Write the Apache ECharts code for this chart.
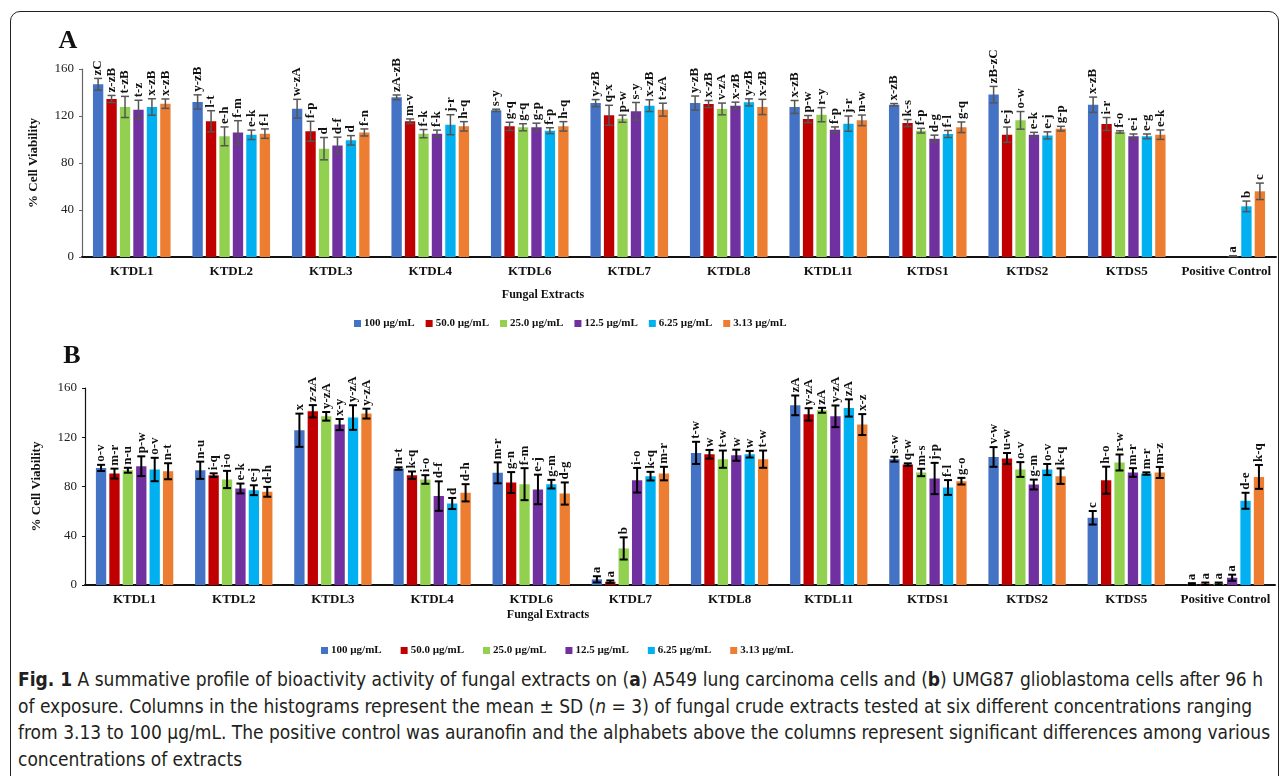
<!DOCTYPE html>
<html>
<head>
<meta charset="utf-8">
<script src="https://cdn.jsdelivr.net/npm/echarts@6/dist/echarts.min.js"></script>
<style>
  body { margin: 0; background: #fff; }
  #frame { position: absolute; left: 10px; top: 11px; width: 1267px; height: 900px; border: 1.6px solid #222; border-radius: 10px; }
  #chart { position: absolute; left: 0; top: 0; width: 1282px; height: 662px; }
  #caption {
    position: absolute; left: 18px; top: 666px; white-space: nowrap;
    font-family: 'DejaVu Sans Condensed', 'Liberation Sans Narrow', sans-serif;
    font-size: 19px; line-height: 26.5px; color: #231f20;
  }
</style>
</head>
<body>
<div id="frame"></div>
<div id="chart"></div>
<div id="caption">
  <b>Fig. 1</b> A summative profile of bioactivity activity of fungal extracts on (<b>a</b>) A549 lung carcinoma cells and (<b>b</b>) UMG87 glioblastoma cells after 96 h<br>
  of exposure. Columns in the histograms represent the mean ± SD (<i>n</i> = 3) of fungal crude extracts tested at six different concentrations ranging<br>
  from 3.13 to 100 µg/mL. The positive control was auranofin and the alphabets above the columns represent significant differences among various<br>
  concentrations of extracts
</div>
<script>
const categories = ['KTDL1', 'KTDL2', 'KTDL3', 'KTDL4', 'KTDL6', 'KTDL7', 'KTDL8', 'KTDL11', 'KTDS1', 'KTDS2', 'KTDS5', 'Positive Control']
const concentrations = ['100 µg/mL', '50.0 µg/mL', '25.0 µg/mL', '12.5 µg/mL', '6.25 µg/mL', '3.13 µg/mL']
const colors = ['#4472C4', '#C00000', '#92D050', '#7030A0', '#00B0F0', '#ED7D31']
const yTicks = [0, 40, 80, 120, 160]

// panel A - A549, one row per extract, columns follow concentrations
const meanA = [
  [147, 134.5, 127.7, 125.4, 127.7, 130.5],
  [132, 115.5, 102.7, 106, 104, 105],
  [126.2, 107, 92.2, 95, 99.3, 106],
  [135.9, 115.5, 105, 105, 112.6, 111.2],
  [124.8, 111.2, 110.4, 110.4, 107.5, 111.2],
  [131, 120.6, 117.7, 124, 128.8, 125.4],
  [131, 130.2, 126, 128.8, 131.6, 127.7],
  [127.7, 117.4, 121.1, 108.4, 113.5, 116.3],
  [129.6, 114, 107.5, 100.7, 104.7, 110.4],
  [138.2, 104.1, 116.3, 104.1, 103.5, 109.2],
  [129.6, 113.2, 106.4, 102.7, 102.7, 104.1],
  [null, null, null, 0.8, 43.1, 55.9]
]
const sdA = [
  [5, 3, 9, 8, 7, 4],
  [6, 9, 8, 10, 4, 4],
  [8, 8.5, 9.5, 7, 4, 3],
  [2, 2, 3.5, 3, 8.5, 4],
  [1, 3.5, 3, 3.5, 2.5, 4],
  [3, 8.5, 3, 7.5, 5, 5.5],
  [6, 3, 5, 3, 3, 6.5],
  [5.5, 3, 6, 2.3, 6.5, 4.5],
  [1, 3, 2, 3, 3, 4.5],
  [7, 6.5, 7.5, 2, 3, 2],
  [6.5, 5.5, 1, 2, 2, 4],
  [null, null, null, 0.3, 4.5, 7]
]
const letterA = [
  ['zC', 'z-zB', 't-zB', 't-z', 'x-zB', 'x-zB'],
  ['y-zB', 'l-t', 'e-h', 'f-m', 'e-k', 'f-l'],
  ['w-zA', 'f-p', 'd', 'd-f', 'd', 'f-n'],
  ['zA-zB', 'm-v', 'f-k', 'f-k', 'j-r', 'h-q'],
  ['s-y', 'g-q', 'g-q', 'g-p', 'f-p', 'h-q'],
  ['y-zB', 'q-x', 'p-w', 's-y', 'x-zB', 't-zA'],
  ['y-zB', 'x-zB', 'v-zA', 'x-zB', 'y-zB', 'x-zB'],
  ['x-zB', 'p-w', 'r-y', 'f-p', 'j-r', 'n-w'],
  ['x-zB', 'k-s', 'f-p', 'd-g', 'f-l', 'g-q'],
  ['zB-zC', 'e-j', 'o-w', 'e-k', 'e-j', 'g-p'],
  ['x-zB', 'i-r', 'f-o', 'e-i', 'e-g', 'e-k'],
  ['', '', '', 'a', 'b', 'c']
]

// panel B - UMG87
const meanB = [
  [95.1, 90.5, 93.2, 96.5, 93.8, 92.4],
  [93.2, 89.2, 85.7, 78.4, 77, 75.7],
  [125.7, 141.1, 137, 130.3, 136, 139.2],
  [94.6, 89.2, 85.7, 72.2, 66.2, 74.9],
  [91.1, 83.2, 81.9, 77.6, 81.9, 74.3],
  [4.6, 2.7, 29.7, 85.1, 88.4, 90.5],
  [107.3, 106.2, 102.2, 105.4, 106.2, 102.2],
  [145.9, 138.6, 141.9, 137, 143.8, 130.3],
  [102.2, 97.8, 91.4, 86.5, 79.2, 84.3],
  [104, 102.7, 93.8, 81.6, 93.8, 88.4],
  [54.6, 85.1, 99.5, 91.4, 90.5, 91.4],
  [0.5, 1, 1.2, 5.9, 68.4, 87.8]
]
const sdB = [
  [2.5, 4, 2, 8, 9.5, 6.5],
  [7, 1.5, 7, 4, 4, 4],
  [13.5, 5, 3.5, 4.5, 10, 4],
  [1, 3, 3.5, 12, 4.5, 7],
  [8.5, 8.5, 13, 12, 3.5, 9],
  [2.5, 1, 9, 10, 3.5, 5.5],
  [9, 3.5, 7, 4.5, 2.7, 7],
  [8, 5, 2, 8.8, 7, 8.5],
  [2, 1, 3, 12.7, 6, 2.7],
  [8, 4.5, 6, 4, 4.5, 6.3],
  [5.5, 11, 6.5, 3.5, 1, 4.5],
  [1, 1, 0.8, 2.5, 6.5, 9.7]
]
const letterB = [
  ['o-v', 'm-r', 'n-u', 'p-w', 'o-v', 'n-t'],
  ['n-u', 'i-q', 'i-o', 'e-k', 'e-j', 'd-h'],
  ['x', 'z-zA', 'y-zA', 'x-y', 'y-zA', 'y-zA'],
  ['n-t', 'k-q', 'i-o', 'd-f', 'd', 'd-h'],
  ['m-r', 'g-n', 'f-m', 'e-j', 'g-m', 'd-g'],
  ['a', 'a', 'b', 'i-o', 'k-q', 'm-r'],
  ['t-w', 'w', 't-w', 'w', 'w', 't-w'],
  ['zA', 'y-zA', 'zA', 'y-zA', 'zA', 'x-z'],
  ['s-w', 'q-w', 'm-s', 'j-p', 'f-l', 'g-o'],
  ['v-w', 'u-w', 'o-v', 'g-m', 'o-v', 'k-q'],
  ['c', 'h-o', 'r-w', 'm-r', 'm-r', 'm-z'],
  ['a', 'a', 'a', 'a', 'd-e', 'k-q']
]

const serif = '"Liberation Serif", "Times New Roman", serif'
const catGap = 0.22
const barGap = 0.3

function barSeries (panel, means) {
  return concentrations.map((name, c) => ({
    name: name,
    type: 'bar',
    xAxisIndex: panel,
    yAxisIndex: panel,
    barGap: barGap * 100 + '%',
    barCategoryGap: catGap * 100 + '%',
    itemStyle: { color: colors[c] },
    data: means.map(row => row[c])
  }))
}

function errorSeries (panel, means, sds, letters, errColor, errWidth) {
  return concentrations.map((name, c) => ({
    type: 'custom',
    xAxisIndex: panel,
    yAxisIndex: panel,
    z: 5,
    silent: true,
    data: means.map((row, i) => row[c] == null ? null : [i, row[c], sds[i][c]]).filter(d => d),
    renderItem: function (params, api) {
      const ci = api.value(0)
      const mean = api.value(1)
      const sd = api.value(2)
      const band = api.size([1, 0])[0]
      const usable = band * (1 - catGap)
      const w = usable / (6 + 5 * barGap)
      const cx = api.coord([ci, 0])[0] - usable / 2 + w / 2 + c * w * (1 + barGap)
      const top = api.coord([ci, mean + sd])[1]
      const bot = api.coord([ci, Math.max(0, mean - sd)])[1]
      const cap = 4
      const line = { stroke: errColor, lineWidth: errWidth }
      return {
        type: 'group',
        children: [
          { type: 'line', shape: { x1: cx, y1: top, x2: cx, y2: bot }, style: line },
          { type: 'line', shape: { x1: cx - cap, y1: top, x2: cx + cap, y2: top }, style: line },
          { type: 'line', shape: { x1: cx - cap, y1: bot, x2: cx + cap, y2: bot }, style: line },
          {
            type: 'text',
            x: cx,
            y: top - 3,
            rotation: Math.PI / 2,
            style: {
              text: letters[ci][c],
              font: 'bold 13px ' + serif,
              fill: '#111',
              align: 'left',
              verticalAlign: 'middle'
            }
          }
        ]
      }
    }
  }))
}

function xAxis (grid) {
  return {
    type: 'category',
    gridIndex: grid,
    data: categories,
    axisLine: { lineStyle: { color: '#111', width: 2 } },
    axisTick: { show: false },
    axisLabel: { color: '#111', fontFamily: serif, fontWeight: 'bold', fontSize: 13, margin: 8, interval: 0 }
  }
}

function yAxis (grid, lineColor) {
  return {
    type: 'value',
    gridIndex: grid,
    min: yTicks[0],
    max: yTicks[yTicks.length - 1],
    interval: 40,
    name: '% Cell Viability',
    nameLocation: 'middle',
    nameGap: 42,
    nameTextStyle: { color: '#111', fontFamily: serif, fontWeight: 'bold', fontSize: 13 },
    axisLine: { show: true, lineStyle: { color: lineColor, width: 1.2 } },
    axisTick: { show: true, length: 3, lineStyle: { color: lineColor } },
    splitLine: { show: false },
    axisLabel: { color: '#222', fontFamily: serif, fontSize: 13, margin: 8 }
  }
}

function legend (left, top, gap) {
  return {
    left: left,
    top: top,
    itemWidth: 7,
    itemHeight: 7,
    itemGap: gap,
    icon: 'rect',
    selectedMode: false,
    data: concentrations,
    textStyle: { color: '#111', fontFamily: serif, fontWeight: 'bold', fontSize: 11, padding: [0, 0, 0, -2] }
  }
}

function label (text, x, y, size) {
  return {
    type: 'text',
    x: x,
    y: y,
    style: { text: text, font: 'bold ' + size + 'px ' + serif, fill: '#111', align: 'center', verticalAlign: 'middle' }
  }
}

const option = {
  animation: false,
  grid: [
    { left: 82, right: 6, top: 69, height: 188 },
    { left: 85, right: 7, top: 388, height: 197 }
  ],
  xAxis: [xAxis(0), xAxis(1)],
  yAxis: [yAxis(0, '#666'), yAxis(1, '#111')],
  legend: [legend(349, 313, 11), legend(316, 640, 19)],
  graphic: [
    label('A', 68, 41, 26),
    label('B', 72, 356, 26),
    label('Fungal Extracts', 543, 295, 12),
    label('Fungal Extracts', 548, 615, 12)
  ],
  series: [].concat(
    barSeries(0, meanA),
    barSeries(1, meanB),
    errorSeries(0, meanA, sdA, letterA, '#555', 1.5),
    errorSeries(1, meanB, sdB, letterB, '#000', 2)
  )
}

const chart = echarts.init(document.getElementById('chart'))
chart.setOption(option)
</script>
</body>
</html>
